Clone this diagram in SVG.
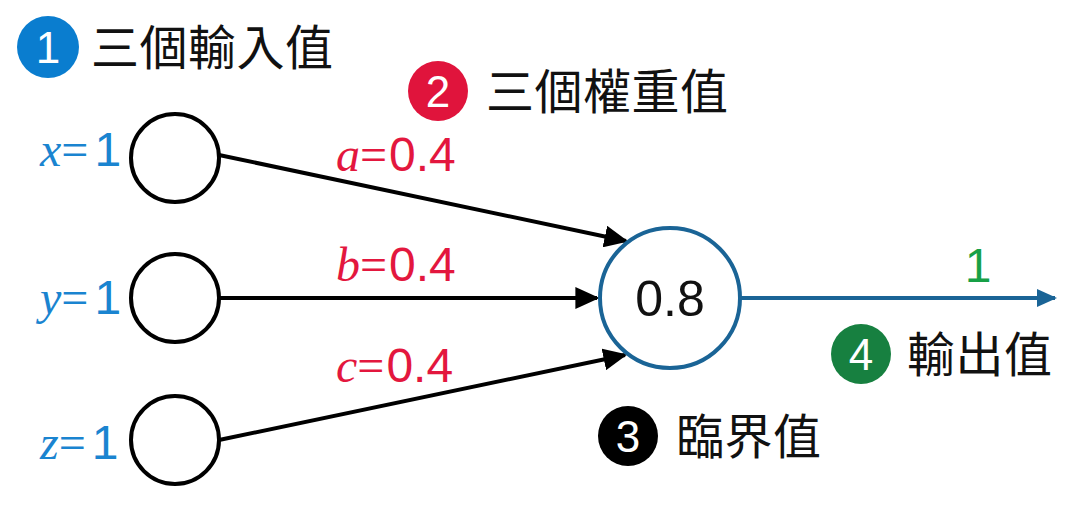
<svg xmlns="http://www.w3.org/2000/svg" width="1082" height="506" viewBox="0 0 1082 506">
<defs>
<marker id="ahb" viewBox="0 0 10 10" refX="9" refY="5" markerWidth="20" markerHeight="18" orient="auto" markerUnits="userSpaceOnUse" preserveAspectRatio="none"><path d="M0,0 L10,5 L0,10 z" fill="#1a6496"/></marker>
<marker id="ahk" viewBox="0 0 10 10" refX="9" refY="5" markerWidth="24" markerHeight="22" orient="auto" markerUnits="userSpaceOnUse" preserveAspectRatio="none"><path d="M0,0 L10,5 L0,10 z" fill="#000"/></marker>
</defs>
<style>
.cjk{font-family:"Noto Sans CJK TC","Noto Sans CJK SC",sans-serif;font-size:48px;letter-spacing:0.5px;fill:#111}
.num{font-family:"Liberation Sans",Arial,sans-serif}
.it{font-family:"Liberation Serif","Times New Roman",serif;font-style:italic}
.eq{font-family:"Liberation Serif","Times New Roman",serif}
.badge{font-family:"Liberation Sans",Arial,sans-serif;font-size:44px;fill:#fff;text-anchor:middle}
.in{fill:#fff;stroke:#000;stroke-width:4}
.blue{fill:#1a84d0}
.red{fill:#e3173e}
.lbl{font-size:48px}
</style>
<rect width="1082" height="506" fill="#fff"/>
<g id="connectors">
<line x1="219" y1="155" x2="626" y2="241" stroke="#000" stroke-width="4" marker-end="url(#ahk)"/>
<line x1="219" y1="298" x2="597" y2="298" stroke="#000" stroke-width="4" marker-end="url(#ahk)"/>
<line x1="219" y1="440" x2="625" y2="355" stroke="#000" stroke-width="4" marker-end="url(#ahk)"/>
<line x1="740" y1="298" x2="1055" y2="298" stroke="#1a6496" stroke-width="4" marker-end="url(#ahb)"/>
</g>
<g id="label1">
<circle cx="48" cy="47" r="31" fill="#0a7dcf"/>
<text x="48" y="63" class="badge">1</text>
<text x="91" y="65" class="cjk">三個輸入值</text>
</g>
<g id="label2">
<circle cx="438" cy="91" r="30" fill="#e0143c"/>
<text x="438" y="107" class="badge">2</text>
<text x="486" y="109" class="cjk">三個權重值</text>
</g>
<g id="input-x">
<circle cx="175" cy="158" r="44" class="in"/>
<text x="40" y="166" class="lbl"><tspan class="it blue">x</tspan><tspan class="eq blue">=</tspan><tspan class="num blue" dx="6">1</tspan></text>
</g>
<g id="input-y">
<circle cx="175" cy="298" r="44" class="in"/>
<text x="40" y="314" class="lbl"><tspan class="it blue">y</tspan><tspan class="eq blue">=</tspan><tspan class="num blue" dx="6">1</tspan></text>
</g>
<g id="input-z">
<circle cx="175" cy="440" r="44" class="in"/>
<text x="40" y="459" class="lbl"><tspan class="it blue">z</tspan><tspan class="eq blue">=</tspan><tspan class="num blue" dx="6">1</tspan></text>
</g>
<g id="weight-a">
<text x="336" y="171" class="lbl"><tspan class="it red">a</tspan><tspan class="eq red">=</tspan><tspan class="num red" dx="2">0.4</tspan></text>
</g>
<g id="weight-b">
<text x="336" y="281" class="lbl"><tspan class="it red">b</tspan><tspan class="eq red">=</tspan><tspan class="num red" dx="2">0.4</tspan></text>
</g>
<g id="weight-c">
<text x="336" y="382" class="lbl"><tspan class="it red">c</tspan><tspan class="eq red">=</tspan><tspan class="num red" dx="2">0.4</tspan></text>
</g>
<g id="neuron">
<circle cx="670" cy="298" r="70" fill="#fff" stroke="#1a6496" stroke-width="4"/>
<text x="670" y="316" class="num" font-size="50" text-anchor="middle" fill="#111">0.8</text>
</g>
<g id="output">
<text x="978" y="282" class="num" font-size="48" text-anchor="middle" fill="#17a046">1</text>
</g>
<g id="label4">
<circle cx="861" cy="354" r="30" fill="#178040"/>
<text x="861" y="370" class="badge">4</text>
<text x="907" y="372" class="cjk">輸出值</text>
</g>
<g id="label3">
<circle cx="628" cy="436" r="30" fill="#000"/>
<text x="628" y="452" class="badge">3</text>
<text x="676" y="454" class="cjk">臨界值</text>
</g>
</svg>
